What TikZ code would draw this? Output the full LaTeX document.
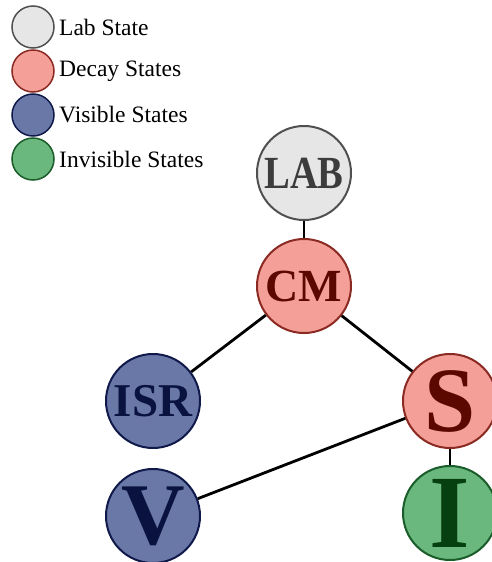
\documentclass[tikz,border=0pt]{standalone}
\usepackage{fontspec}
\setmainfont{Liberation Serif}
\definecolor{labfill}{HTML}{E6E6E6}
\definecolor{labline}{HTML}{505050}
\definecolor{labtext}{HTML}{3C3C3C}
\definecolor{decfill}{HTML}{F4A098}
\definecolor{decline}{HTML}{8A2A22}
\definecolor{dectext}{HTML}{5A0800}
\definecolor{visfill}{HTML}{6A78A8}
\definecolor{visline}{HTML}{101A4A}
\definecolor{vistext}{HTML}{0A1240}
\definecolor{invfill}{HTML}{6AB87E}
\definecolor{invline}{HTML}{1A5C2A}
\definecolor{invtext}{HTML}{064010}
\tikzset{
  state/.style={circle,line width=2pt,minimum size=94pt,inner sep=0pt},
  tag/.style={inner sep=0pt,font=\bfseries},
  labstate/.style={state,fill=labfill,draw=labline,label={[tag,text=labtext]center:#1}},
  decstate/.style={state,fill=decfill,draw=decline,label={[tag,text=dectext]center:#1}},
  visstate/.style={state,fill=visfill,draw=visline,label={[tag,text=vistext]center:#1}},
  invstate/.style={state,fill=invfill,draw=invline,label={[tag,text=invtext]center:#1}},
  key/.style={circle,line width=1.5pt,minimum size=42pt,inner sep=0pt},
  keytext/.style={anchor=west,font=\fontsize{23.5}{26}\selectfont,inner sep=0pt},
  link/.style={line width=2.8pt}
}
\newcommand{\fs}[1]{\fontsize{#1}{#1}\selectfont}
\begin{document}
\begin{tikzpicture}[x=1pt,y=-1pt]
    \useasboundingbox (0,0) rectangle (491,562);
    % legend
    \node[key,fill=labfill,draw=labline] (k1) at (33,27){};
    \node[key,fill=decfill,draw=decline] (k2) at (33,71){};
    \node[key,fill=visfill,draw=visline] (k3) at (33,115){};
    \node[key,fill=invfill,draw=invline] (k4) at (33,159){};
    \node[keytext] (t1) at (59,27){Lab State};
    \node[keytext] (t2) at (59,71){Decay States};
    \node[keytext] (t3) at (59,115){Visible States};
    \node[keytext] (t4) at (59,159){Invisible States};
    % states
    \node[labstate={\fs{46}\scalebox{0.84}[1]{LAB}}] (lab) at (304,173){};
    \node[decstate={\fs{46}CM}] (cm) at (304,286){};
    \node[visstate={\fs{47}ISR}] (isr) at (153,401){};
    \node[decstate={\fs{92}S}] (s) at (450,401){};
    \node[visstate={\fs{88}V}] (v) at (153,516){};
    \node[invstate={\fs{104}I}] (i) at (450,513){};
    \draw[link] (lab) -- (cm);
    \draw[link] (cm) -- (isr);
    \draw[link] (cm) -- (s);
    \draw[link] (s) -- (v);
    \draw[link] (s) -- (i);
\end{tikzpicture}
\end{document}
